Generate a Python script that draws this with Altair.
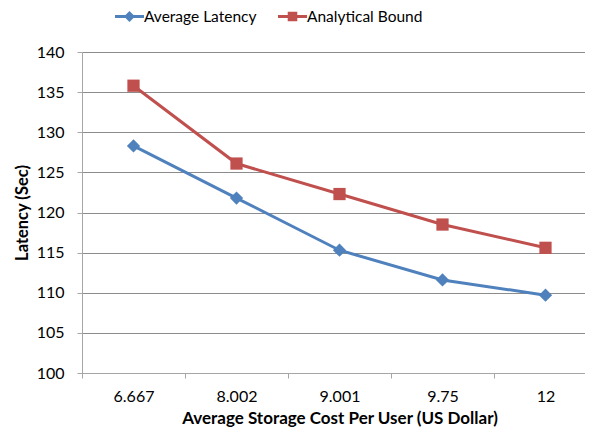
import altair as alt
import pandas as pd

categories = ["6.667", "8.002", "9.001", "9.75", "12"]
avg_latency = [128.3, 121.8, 115.3, 111.6, 109.7]
analytical_bound = [135.8, 126.1, 122.3, 118.5, 115.6]
series_names = ["Average Latency", "Analytical Bound"]
colors = ["#4F81BD", "#C0504D"]
y_ticks = [100, 105, 110, 115, 120, 125, 130, 135, 140]

rows = []
for c, a, b in zip(categories, avg_latency, analytical_bound):
    rows.append({"cost": c, "latency": a, "series": series_names[0]})
    rows.append({"cost": c, "latency": b, "series": series_names[1]})
df = pd.DataFrame(rows)

FONT = "Lato"

x_enc = alt.X(
    "cost:N",
    sort=categories,
    title="Average Storage Cost Per User (US Dollar)",
    scale=alt.Scale(paddingInner=0, paddingOuter=0, range=[0, 515]),
    axis=alt.Axis(
        labelAngle=0,
        tickBand="extent",
        grid=False,
        domainColor="#A6A6A6",
        tickColor="#A6A6A6",
        tickSize=5,
        labelPadding=10,
        titlePadding=6,
        titleFontSize=17,
    ),
)
y_enc = alt.Y(
    "latency:Q",
    title="Latency (Sec)",
    scale=alt.Scale(domain=[100, 140], nice=False, zero=False),
    axis=alt.Axis(
        values=y_ticks,
        gridColor="#8C8C8C",
        domainColor="#A6A6A6",
        tickColor="#A6A6A6",
        tickSize=5,
        labelPadding=13,
        titlePadding=6,
    ),
)
color_scale = alt.Scale(domain=series_names, range=colors)

lines = alt.Chart(df).mark_line(strokeWidth=3).encode(
    x=x_enc,
    y=y_enc,
    color=alt.Color("series:N", scale=color_scale, legend=None),
)

points = alt.Chart(df).mark_point(filled=True, opacity=1).encode(
    x=x_enc,
    y=y_enc,
    color=alt.Color("series:N", scale=color_scale, legend=None),
    shape=alt.Shape(
        "series:N",
        scale=alt.Scale(domain=series_names, range=["diamond", "square"]),
        legend=None,
    ),
    size=alt.Size(
        "series:N",
        scale=alt.Scale(domain=series_names, range=[175, 150]),
        legend=None,
    ),
)

legend_paths = [
    "M-1,-0.1L1,-0.1L1,0.1L-1,0.1ZM0,-0.38L0.38,0L0,0.38L-0.38,0Z",
    "M-1,-0.1L1,-0.1L1,0.1L-1,0.1ZM-0.33,-0.33L0.33,-0.33L0.33,0.33L-0.33,0.33Z",
]

legend_props = dict(
    title=None,
    orient="none",
    direction="horizontal",
    legendX=33,
    legendY=-50,
    symbolSize=840,
    symbolOpacity=1,
    symbolStrokeWidth=0,
    labelFontSize=15.5,
    labelFont=FONT,
    labelColor="#000000",
    labelOffset=0,
    columnPadding=21,
)

legend_layer = alt.Chart(df).mark_point(filled=True, opacity=0, size=0).encode(
    x=x_enc,
    y=y_enc,
    color=alt.Color(
        "series:N",
        scale=alt.Scale(domain=series_names, range=colors),
        legend=alt.Legend(**legend_props),
    ),
    shape=alt.Shape(
        "series:N",
        scale=alt.Scale(domain=series_names, range=legend_paths),
        legend=alt.Legend(**legend_props),
    ),
)

chart = (
    alt.layer(lines, points, legend_layer)
    .resolve_scale(color="independent", shape="independent")
    .properties(
        width=503,
        height=321,
        autosize=alt.AutoSizeParams(type="none"),
        padding={"left": 74, "top": 44, "right": 0, "bottom": 55},
    )
    .configure_view(stroke=None)
    .configure_axis(
        labelFont=FONT,
        titleFont=FONT,
        labelFontSize=16,
        titleFontSize=16.5,
        labelColor="#000000",
        titleColor="#000000",
        titleFontWeight="bold",
    )
)

chart.save("out.html", embed_options={"renderer": "svg", "actions": False})
